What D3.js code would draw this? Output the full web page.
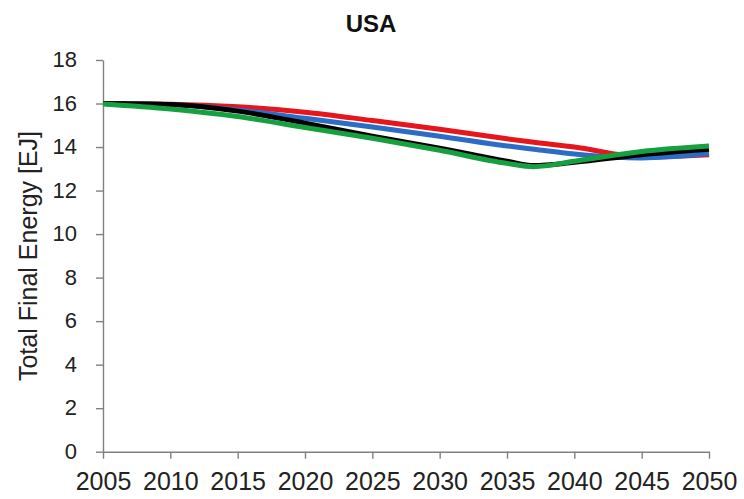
<!DOCTYPE html>
<html><head><meta charset="utf-8">
<script src="https://cdn.jsdelivr.net/npm/d3@7"></script>
<style>body{margin:0;background:#fff}svg text{font-family:"Liberation Sans",Arial,sans-serif}</style>
</head><body><svg id="c" width="744" height="499"></svg>
<script>
const years = [2005,2010,2015,2020,2025,2030,2035,2037,2040,2045,2050];
const red   = [16.0,15.97,15.85,15.6,15.22,14.82,14.38,14.22,14.0,13.55,13.65];
const blue  = [16.0,15.95,15.7,15.32,14.92,14.5,14.05,13.9,13.68,13.5,13.7];
const black = [16.0,15.95,15.65,15.1,14.5,13.95,13.35,13.15,13.3,13.65,13.9];
const green = [15.98,15.75,15.4,14.9,14.4,13.85,13.25,13.1,13.35,13.8,14.05];
const xTicks = [2005,2010,2015,2020,2025,2030,2035,2040,2045,2050];
const yTicks = [0,2,4,6,8,10,12,14,16,18];
const series = [
  {name:"red", values:red, color:"#e8161c"},
  {name:"blue", values:blue, color:"#2b6cc4"},
  {name:"black", values:black, color:"#000000"},
  {name:"green", values:green, color:"#17a03f"}
];
const svg = d3.select("#c");
const x = d3.scaleLinear().domain([2005,2050]).range([103,709]);
const y = d3.scaleLinear().domain([0,18]).range([451.7,60]);
const axisColor = "#808080";
const gx = svg.append("g").attr("transform","translate(0,451.7)")
  .call(d3.axisBottom(x).tickValues(xTicks).tickFormat(d3.format("d")).tickSize(7).tickSizeOuter(0));
const gy = svg.append("g").attr("transform","translate(103,0)")
  .call(d3.axisLeft(y).tickValues(yTicks).tickSize(7).tickSizeOuter(0));
[gx,gy].forEach(g=>{
  g.select(".domain").attr("stroke",axisColor).attr("stroke-width",1.4);
  g.selectAll(".tick line").attr("stroke",axisColor).attr("stroke-width",1.4);
  g.selectAll(".tick text").attr("fill","#222").attr("font-family","Liberation Sans, Arial, sans-serif");
});
gx.selectAll(".tick text").attr("font-size",25).attr("y",38.3).attr("dy",0);
gy.selectAll(".tick text").attr("font-size",22).attr("x",-26).attr("dy","0.3em");
const line = d3.line().x((d,i)=>x(years[i])).y(d=>y(d)).curve(d3.curveMonotoneX);
series.forEach(s=>{
  svg.append("path").attr("d",line(s.values)).attr("fill","none")
    .attr("stroke",s.color).attr("stroke-width",5).attr("stroke-linejoin","round");
});
svg.append("text").attr("x",371).attr("y",32).attr("text-anchor","middle")
  .attr("font-size",24).attr("font-weight","bold").attr("fill","#111").text("USA");
svg.append("text").attr("transform","translate(36.5,256) rotate(-90)").attr("text-anchor","middle")
  .attr("font-size",25).attr("fill","#222").text("Total Final Energy [EJ]");
</script></body></html>
